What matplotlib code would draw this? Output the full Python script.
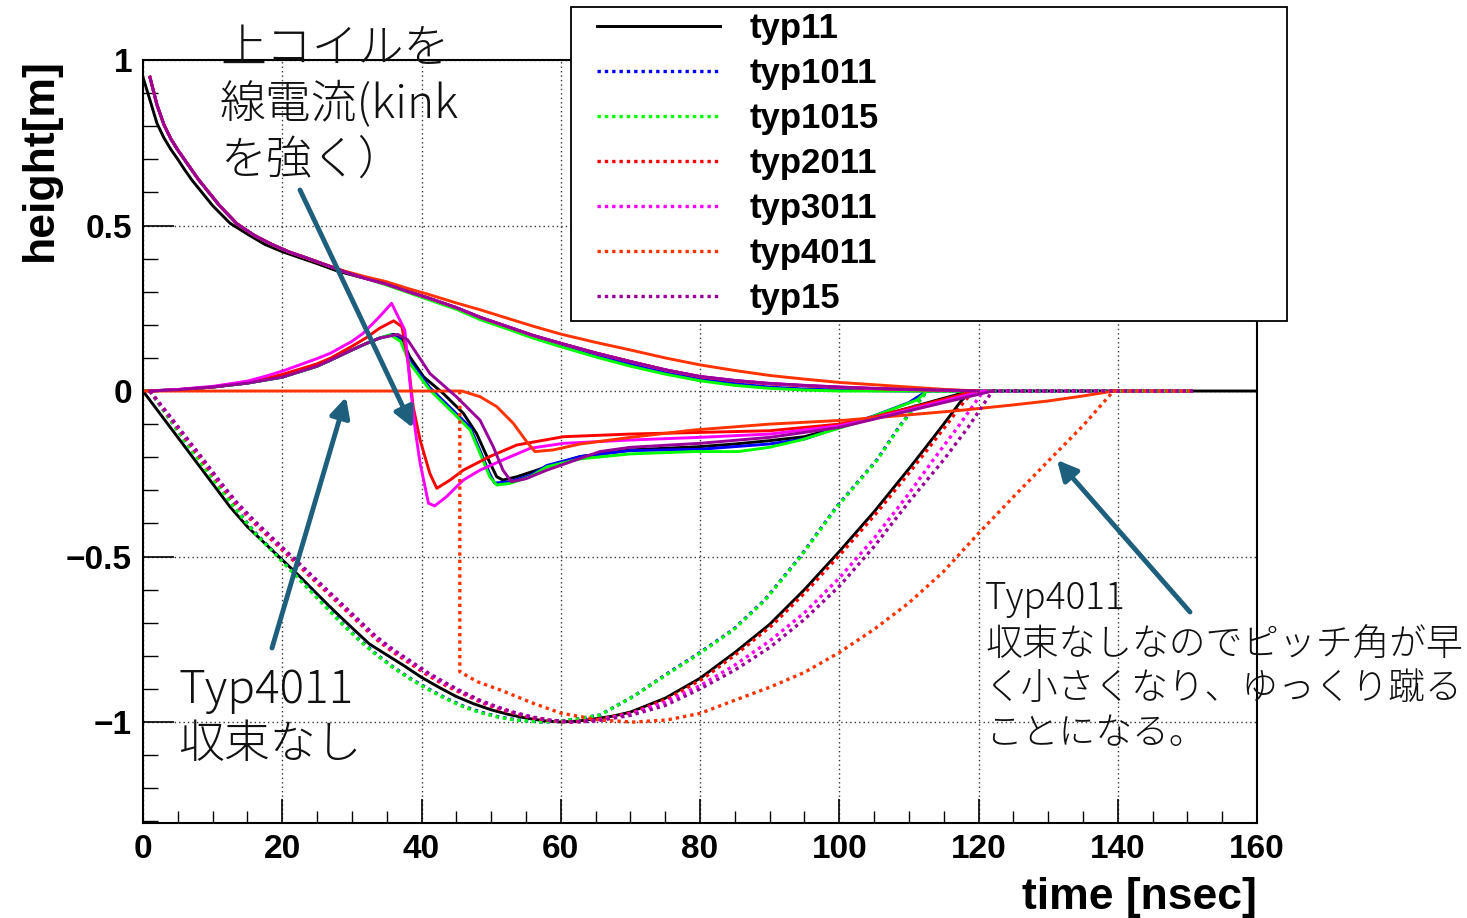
import matplotlib
matplotlib.use("Agg")
import matplotlib.pyplot as plt
from matplotlib.ticker import MultipleLocator, FixedLocator
from matplotlib.patches import Rectangle

# ---------------- data ----------------
series_names = ["typ11", "typ1011", "typ1015", "typ2011", "typ3011", "typ4011", "typ15"]
series_colors = ["#000000", "#0000ff", "#00ff00", "#ff0000", "#ff00ff", "#ff3300", "#990099"]

# upper (decaying) curves
typ11_up_t = [0, 1, 2, 3, 4, 5, 6, 7, 8, 10, 12.5, 15, 17.5, 20, 22.5, 25, 28, 31, 34, 37.5, 41, 45, 48.5, 52, 56, 60, 65, 70, 75, 80, 85, 90, 95, 100, 105, 110, 115, 119]
typ11_up_y = [0.948, 0.879, 0.809, 0.765, 0.73, 0.70, 0.668, 0.638, 0.612, 0.56, 0.507, 0.474, 0.443, 0.421, 0.403, 0.385, 0.362, 0.345, 0.330, 0.305, 0.281, 0.252, 0.222, 0.197, 0.168, 0.144, 0.115, 0.089, 0.064, 0.043, 0.031, 0.022, 0.016, 0.011, 0.007, 0.004, 0.002, 0.0]

up_t = [1, 2, 3, 4, 5, 6, 7, 8, 9, 11, 13.5, 16, 18.5, 21, 23.5, 26, 29, 32, 35, 38, 41, 45, 48.5, 52, 56, 60, 65, 70, 75, 80, 85, 90, 95, 100, 105, 110, 115, 120]
typ1011_up_y = [0.948, 0.865, 0.805, 0.762, 0.728, 0.698, 0.668, 0.638, 0.612, 0.56, 0.505, 0.47, 0.443, 0.42, 0.402, 0.383, 0.36, 0.34, 0.322, 0.3, 0.279, 0.25, 0.219, 0.193, 0.164, 0.138, 0.108, 0.08, 0.055, 0.035, 0.022, 0.012, 0.006, 0.003, 0.001, 0.0, 0.0, 0.0]
typ1015_up_y = [0.948, 0.865, 0.805, 0.762, 0.728, 0.698, 0.668, 0.638, 0.612, 0.56, 0.505, 0.47, 0.443, 0.42, 0.402, 0.383, 0.36, 0.34, 0.32, 0.298, 0.276, 0.247, 0.215, 0.19, 0.16, 0.134, 0.103, 0.075, 0.051, 0.031, 0.017, 0.008, 0.003, 0.0, 0.0, 0.0, 0.0, 0.0]
typ2011_up_y = [0.948, 0.865, 0.805, 0.762, 0.728, 0.698, 0.668, 0.638, 0.612, 0.56, 0.505, 0.47, 0.443, 0.42, 0.402, 0.383, 0.36, 0.34, 0.323, 0.301, 0.281, 0.252, 0.222, 0.197, 0.168, 0.144, 0.115, 0.089, 0.064, 0.043, 0.031, 0.022, 0.016, 0.011, 0.007, 0.004, 0.002, 0.0]
typ3011_up_y = [0.948, 0.865, 0.805, 0.762, 0.728, 0.698, 0.668, 0.638, 0.612, 0.56, 0.505, 0.47, 0.443, 0.42, 0.402, 0.383, 0.36, 0.34, 0.323, 0.301, 0.281, 0.252, 0.222, 0.197, 0.168, 0.144, 0.115, 0.089, 0.064, 0.044, 0.032, 0.023, 0.017, 0.012, 0.008, 0.005, 0.003, 0.0]
typ4011_up_y = [0.948, 0.865, 0.805, 0.762, 0.728, 0.698, 0.668, 0.638, 0.612, 0.56, 0.505, 0.47, 0.443, 0.42, 0.402, 0.383, 0.362, 0.345, 0.33, 0.31, 0.292, 0.266, 0.245, 0.222, 0.196, 0.172, 0.147, 0.124, 0.10, 0.079, 0.062, 0.047, 0.036, 0.026, 0.019, 0.012, 0.005, 0.0]
typ15_up_y = [0.948, 0.865, 0.805, 0.762, 0.728, 0.698, 0.668, 0.638, 0.612, 0.56, 0.505, 0.47, 0.443, 0.42, 0.402, 0.383, 0.36, 0.34, 0.323, 0.301, 0.281, 0.252, 0.222, 0.197, 0.168, 0.144, 0.115, 0.089, 0.064, 0.044, 0.032, 0.023, 0.017, 0.012, 0.008, 0.005, 0.003, 0.0]

# middle (kink) curves
typ11_mid_t = [0, 5, 10, 15, 20, 25, 27, 30, 32, 34, 36, 37, 38.3, 40.3, 43.1, 46, 47.9, 49.4, 50.8, 51.7, 53.7, 58, 62.8, 70, 80, 85, 90, 95, 100, 105, 110, 115, 118.8]
typ11_mid_y = [0, 0.004, 0.012, 0.024, 0.042, 0.075, 0.094, 0.124, 0.143, 0.16, 0.171, 0.165, 0.104, 0.043, -0.007, -0.067, -0.128, -0.198, -0.259, -0.269, -0.259, -0.229, -0.198, -0.178, -0.168, -0.16, -0.15, -0.138, -0.109, -0.08, -0.051, -0.022, 0.0]
typ1011_mid_t = [1, 5, 10, 15, 20, 25, 27, 30, 32, 34, 35.8, 37, 38.3, 41.2, 44.6, 47, 48.6, 49.8, 50.5, 52.7, 55.6, 58, 62.8, 70, 80, 90, 95, 100, 105, 110, 112.6]
typ1011_mid_y = [0, 0.004, 0.012, 0.024, 0.042, 0.075, 0.094, 0.124, 0.143, 0.16, 0.17, 0.155, 0.092, 0.01, -0.06, -0.11, -0.19, -0.25, -0.278, -0.274, -0.255, -0.225, -0.198, -0.18, -0.176, -0.16, -0.145, -0.11, -0.075, -0.035, 0.0]
typ1015_mid_t = [1, 5, 10, 15, 20, 25, 27, 30, 32, 34, 35.5, 37, 38.3, 41.2, 44.6, 47, 48.6, 49.8, 50.8, 52.7, 55.6, 58, 62.8, 70, 79, 85.5, 90, 94.5, 98, 102.2, 107, 111.2, 112.6]
typ1015_mid_y = [0, 0.004, 0.012, 0.024, 0.042, 0.075, 0.094, 0.124, 0.143, 0.16, 0.17, 0.15, 0.084, 0.003, -0.067, -0.118, -0.198, -0.259, -0.284, -0.279, -0.259, -0.229, -0.205, -0.19, -0.183, -0.183, -0.17, -0.148, -0.125, -0.098, -0.06, -0.027, 0.0]
typ2011_mid_t = [1, 5, 10, 15, 17.3, 20, 25, 27, 30, 32, 34, 36, 37.2, 38.1, 38.8, 39.8, 41.2, 42.2, 44.1, 46, 49.8, 53.7, 60.4, 70, 80, 90, 100, 105, 110, 115, 119.5]
typ2011_mid_y = [0, 0.004, 0.012, 0.026, 0.036, 0.05, 0.082, 0.10, 0.135, 0.16, 0.19, 0.212, 0.194, 0.084, -0.047, -0.148, -0.249, -0.294, -0.269, -0.239, -0.198, -0.163, -0.138, -0.13, -0.125, -0.12, -0.10, -0.078, -0.052, -0.025, 0.0]
typ3011_mid_t = [1, 5, 10, 15, 17.3, 20, 25, 26.9, 30, 31.6, 34, 35.7, 37.6, 38.3, 39.1, 39.8, 41.0, 41.9, 43.6, 46, 48.4, 51.7, 55.6, 60.4, 70, 80, 90, 100, 105, 110, 115, 120.7]
typ3011_mid_y = [0, 0.005, 0.014, 0.03, 0.043, 0.06, 0.098, 0.114, 0.15, 0.174, 0.225, 0.265, 0.184, 0.033, -0.118, -0.218, -0.339, -0.347, -0.319, -0.269, -0.239, -0.208, -0.173, -0.158, -0.148, -0.14, -0.13, -0.105, -0.082, -0.057, -0.03, 0.0]
typ4011_mid_t = [0, 45.8, 48.4, 50.8, 53.2, 55.1, 56.3, 58.9, 62.8, 70, 79, 90, 100.9, 110, 117.6, 125, 130, 135, 139.4]
typ4011_mid_y = [0, 0.0, -0.017, -0.047, -0.098, -0.153, -0.183, -0.178, -0.16, -0.14, -0.118, -0.1, -0.088, -0.072, -0.058, -0.042, -0.03, -0.015, 0.0]
typ15_mid_t = [1, 5, 10, 15, 20, 25, 27, 30, 32, 34, 36.6, 38, 41.2, 45, 48.4, 50.3, 51.7, 52.9, 55, 58, 65.6, 70, 80, 90, 100, 105, 110, 115, 122]
typ15_mid_y = [0, 0.004, 0.012, 0.024, 0.042, 0.075, 0.094, 0.124, 0.143, 0.16, 0.171, 0.155, 0.053, -0.017, -0.088, -0.168, -0.239, -0.274, -0.265, -0.239, -0.183, -0.17, -0.158, -0.14, -0.11, -0.085, -0.06, -0.035, 0.0]

# lower (dotted) curves, continuing along zero to the end of each run
typ11_low_t = [0, 2.5, 5, 7.5, 10, 12.5, 15, 17.5, 20, 22.5, 25, 27.5, 30, 32.5, 35, 37.5, 40, 42.5, 45, 47.5, 50, 52.5, 55, 57.5, 60, 62.5, 65, 67.5, 70, 75, 80, 85, 90, 95, 100, 105, 110, 112.5, 115, 117.5, 119, 160]
typ11_low_y = [0, -0.07, -0.14, -0.21, -0.28, -0.35, -0.41, -0.46, -0.51, -0.56, -0.613, -0.665, -0.715, -0.764, -0.797, -0.83, -0.865, -0.895, -0.923, -0.945, -0.963, -0.977, -0.988, -0.996, -1.0, -0.997, -0.99, -0.982, -0.97, -0.928, -0.868, -0.79, -0.705, -0.60, -0.485, -0.365, -0.235, -0.168, -0.10, -0.03, 0.0, 0.0]
typ1011_low_t = [1, 3.5, 6, 8.5, 11, 13.5, 16, 18.5, 21, 23.5, 26, 28.5, 31, 33.5, 36, 38.5, 41, 43.5, 46, 48.5, 51, 53.5, 56, 57.5, 60, 62.5, 65.6, 70.4, 75.2, 80, 84.8, 89.3, 94.4, 99.6, 105.4, 108.6, 112.6, 150.8]
typ1011_low_y = [0, -0.075, -0.15, -0.22, -0.29, -0.36, -0.425, -0.48, -0.535, -0.59, -0.645, -0.70, -0.75, -0.795, -0.835, -0.87, -0.90, -0.928, -0.952, -0.97, -0.984, -0.993, -0.998, -1.0, -0.997, -0.99, -0.979, -0.923, -0.855, -0.79, -0.72, -0.631, -0.50, -0.35, -0.208, -0.108, 0.0, 0.0]
typ1015_low_t = [1, 3.5, 6, 8.5, 11, 13.5, 16, 18.5, 21, 23.5, 26, 28.5, 31, 33.5, 36, 38.5, 41, 43.5, 46, 48.5, 51, 53.5, 56, 57.5, 60, 62.5, 65.6, 70.4, 75.2, 80, 84.8, 89.3, 94.4, 99.6, 105.4, 108.6, 112.6, 150.8]
typ1015_low_y = [0, -0.075, -0.15, -0.222, -0.292, -0.362, -0.427, -0.482, -0.537, -0.592, -0.647, -0.702, -0.752, -0.797, -0.837, -0.872, -0.902, -0.93, -0.954, -0.972, -0.985, -0.994, -0.998, -1.0, -0.997, -0.99, -0.979, -0.923, -0.857, -0.792, -0.722, -0.633, -0.502, -0.352, -0.21, -0.11, 0.0, 0.0]
typ2011_low_t = [1, 3.5, 6, 8.5, 11, 13.5, 16, 18.5, 21, 23.5, 26, 28.5, 31, 33.5, 36, 38.5, 41, 43.5, 46, 48.5, 51, 53.5, 56, 58.5, 61, 63.5, 66, 70.5, 75.5, 80.5, 85.5, 90.5, 95.5, 100.5, 105.5, 110.5, 113, 115.5, 118, 119.4, 150.8]
typ2011_low_y = [0, -0.07, -0.14, -0.21, -0.28, -0.345, -0.40, -0.45, -0.50, -0.55, -0.60, -0.65, -0.70, -0.75, -0.79, -0.825, -0.86, -0.89, -0.915, -0.94, -0.96, -0.975, -0.988, -0.996, -1.0, -0.997, -0.99, -0.97, -0.928, -0.868, -0.79, -0.705, -0.60, -0.485, -0.365, -0.235, -0.168, -0.10, -0.03, 0.0, 0.0]
typ3011_low_t = [1, 3.5, 6, 8.5, 11, 13.5, 16, 18.5, 21, 23.5, 26, 28.5, 31, 33.5, 36, 38.5, 41, 43.5, 46, 48.5, 51, 53.5, 56, 58.5, 61.5, 65, 70, 75, 80, 85, 90, 95, 100, 105, 110, 113.5, 117, 120.7, 150.8]
typ3011_low_y = [0, -0.068, -0.137, -0.205, -0.275, -0.34, -0.395, -0.445, -0.495, -0.545, -0.595, -0.645, -0.695, -0.745, -0.785, -0.82, -0.855, -0.885, -0.912, -0.937, -0.957, -0.973, -0.986, -0.995, -1.0, -0.995, -0.975, -0.94, -0.89, -0.828, -0.755, -0.67, -0.565, -0.445, -0.31, -0.208, -0.11, 0.0, 0.0]
typ4011_low_t = [45.5, 45.5, 48, 51.3, 56, 60, 65.6, 70.4, 75.2, 80, 85, 90, 95, 100, 105, 110, 115, 120, 125, 130, 135, 139.4, 150.8]
typ4011_low_y = [0.0, -0.848, -0.878, -0.903, -0.943, -0.973, -0.994, -1.0, -0.994, -0.974, -0.934, -0.895, -0.85, -0.79, -0.72, -0.64, -0.545, -0.43, -0.32, -0.212, -0.105, 0.0, 0.0]
typ15_low_t = [1, 3.5, 6, 8.5, 11, 13.5, 16, 18.5, 21, 23.5, 26, 28.5, 31, 33.5, 36, 38.5, 41, 43.5, 46, 48.5, 51, 53.5, 56, 58.5, 62, 65, 70, 75, 80, 85, 90, 95, 100, 105, 110, 115, 118.5, 122, 150.8]
typ15_low_y = [0, -0.066, -0.134, -0.202, -0.272, -0.337, -0.392, -0.442, -0.492, -0.542, -0.592, -0.642, -0.692, -0.742, -0.782, -0.817, -0.852, -0.882, -0.91, -0.935, -0.955, -0.972, -0.985, -0.994, -1.0, -0.997, -0.98, -0.95, -0.90, -0.843, -0.775, -0.69, -0.59, -0.47, -0.335, -0.208, -0.11, 0.0, 0.0]

x_ticks = [0, 20, 40, 60, 80, 100, 120, 140, 160]
y_ticks = [-1, -0.5, 0, 0.5, 1]
y_tick_labels = ["\u22121", "\u22120.5", "0", "0.5", "1"]

# ---------------- figure ----------------
W, H = 1467, 918
fig = plt.figure(figsize=(W / 100, H / 100), dpi=100)
fig.patch.set_facecolor("white")
L, R, T, B = 143, 1257, 60, 823
ax = fig.add_axes([L / W, (H - B) / H, (R - L) / W, (B - T) / H])
ax.set_xlim(0, 160)
ax.set_ylim(-1.305, 1.0)

bold = dict(family="Liberation Sans", weight="bold")

ax.grid(True, which="major", color="#333333", linestyle=(0, (1, 2.2)), linewidth=1.0)
ax.set_axisbelow(True)

ups = [(typ11_up_t, typ11_up_y), (up_t, typ1011_up_y), (up_t, typ1015_up_y), (up_t, typ2011_up_y),
       (up_t, typ3011_up_y), (up_t, typ4011_up_y), (up_t, typ15_up_y)]
mids = [(typ11_mid_t, typ11_mid_y), (typ1011_mid_t, typ1011_mid_y), (typ1015_mid_t, typ1015_mid_y),
        (typ2011_mid_t, typ2011_mid_y), (typ3011_mid_t, typ3011_mid_y), (typ4011_mid_t, typ4011_mid_y),
        (typ15_mid_t, typ15_mid_y)]
lows = [(typ11_low_t, typ11_low_y), (typ1011_low_t, typ1011_low_y), (typ1015_low_t, typ1015_low_y),
        (typ2011_low_t, typ2011_low_y), (typ3011_low_t, typ3011_low_y), (typ4011_low_t, typ4011_low_y),
        (typ15_low_t, typ15_low_y)]

dot = (0, (1.0, 1.2))
handles = []
for i, (name, col) in enumerate(zip(series_names, series_colors)):
    ax.plot(*ups[i], color=col, lw=2.1, solid_joinstyle="round")
    ax.plot(*mids[i], color=col, lw=2.1, solid_joinstyle="round")
    ls = "-" if i == 0 else dot
    h, = ax.plot(*lows[i], color=col, lw=2.4 if i else 2.1, linestyle=ls, label=name)
    handles.append(h)

# ticks
ax.set_xticks(x_ticks)
ax.xaxis.set_minor_locator(MultipleLocator(5))
ax.set_yticks(y_ticks)
ax.set_yticklabels(y_tick_labels)
ax.yaxis.set_minor_locator(FixedLocator([v / 10 for v in range(-13, 11)]))
ax.tick_params(axis="x", which="major", direction="in", length=17, width=1.2, top=False, pad=8)
ax.tick_params(axis="x", which="minor", direction="in", length=9, width=1.0, top=False)
ax.tick_params(axis="y", which="major", direction="in", length=22, width=1.2, right=False, pad=8)
ax.tick_params(axis="y", which="minor", direction="in", length=11, width=1.0, right=False)
for lab in ax.get_xticklabels() + ax.get_yticklabels():
    lab.set_fontfamily("Liberation Sans")
    lab.set_fontweight("bold")
    lab.set_fontsize(24)
for s in ax.spines.values():
    s.set_linewidth(1.5)

# axis titles
fig.text(1257 / W, 1 - 897 / H, "time [nsec]", ha="right", va="center", fontsize=32, **bold)
fig.text(40 / W, 1 - 160 / H, "height[m]", ha="center", va="center", rotation=90, fontsize=32, **bold)

# legend: white frame spanning x 571..1287, y 7..321 (pixels), entries placed inside
frame = Rectangle((571 / W, 1 - 321 / H), (1287 - 571) / W, (321 - 7) / H, transform=fig.transFigure,
                  facecolor="white", edgecolor="black", linewidth=1.3, zorder=4)
fig.add_artist(frame)
leg = fig.legend(handles=handles, loc="upper left", bbox_to_anchor=(597 / W, 1 - 12 / H),
                 bbox_transform=fig.transFigure,
                 prop=dict(family="Liberation Sans", weight="bold", size=25),
                 handlelength=3.55, handletextpad=0.86, labelspacing=0.345, borderpad=0.0, borderaxespad=0,
                 frameon=False)
leg.set_zorder(5)

# annotations
jp = ["Noto Sans CJK JP", "DejaVu Sans"]
arrow_col = "#1d5f7c"
fig.text(220 / W, 1 - 25 / H, "上コイルを\n線電流(kink\nを強く）", ha="left", va="top", fontsize=33,
         family=jp, weight="light", linespacing=1.24, color="#111111")
fig.text(178 / W, 1 - 666 / H, "Typ4011\n収束なし", ha="left", va="top", fontsize=33,
         family=jp, weight="light", linespacing=1.22, color="#111111")
fig.text(985 / W, 1 - 580 / H, "Typ4011\n収束なしなのでピッチ角が早\nく小さくなり、ゆっくり蹴る\nことになる。", ha="left", va="top",
         fontsize=26.5, family=jp, weight="light", linespacing=1.22, color="#111111")

def arrow(x0, y0, x1, y1):
    ax.annotate("", xy=(x1, H - y1), xycoords="figure pixels", xytext=(x0, H - y0), textcoords="figure pixels",
                arrowprops=dict(arrowstyle="-|>", color=arrow_col, lw=3.5, mutation_scale=30, shrinkA=0, shrinkB=0),
                annotation_clip=False)

arrow(300, 190, 413, 428)
arrow(272, 648, 346, 397)
arrow(1190, 612, 1057, 460)

fig.savefig("out.png", dpi=100)
